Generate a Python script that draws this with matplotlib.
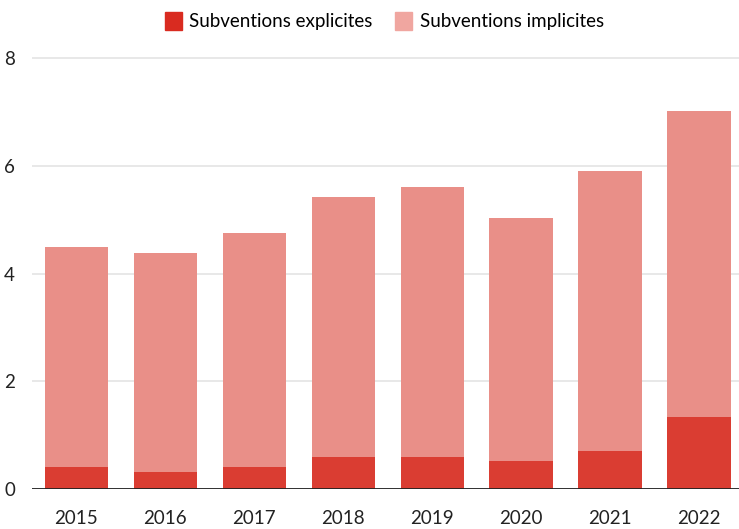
import matplotlib.pyplot as plt
from matplotlib.patches import Patch

years = ["2015", "2016", "2017", "2018", "2019", "2020", "2021", "2022"]
explicit = [0.4, 0.32, 0.4, 0.6, 0.6, 0.52, 0.7, 1.33]
total = [4.49, 4.39, 4.75, 5.42, 5.61, 5.03, 5.91, 7.02]
implicit = [t - e for t, e in zip(total, explicit)]

plt.rcParams['font.family'] = ['Lato', 'DejaVu Sans']

fig = plt.figure(figsize=(7.39, 5.29), dpi=100)
ax = fig.add_axes([0.043, 0.0756, 0.957, 0.835])

x = range(len(years))
ax.bar(x, explicit, width=0.71, color='#da3d32', zorder=3)
ax.bar(x, implicit, bottom=explicit, width=0.71, color='#e98f88', zorder=3)

ax.set_xlim(-0.5, 7.45)
ax.set_ylim(0, 8.2)
ax.set_yticks([0, 2, 4, 6, 8])
ax.set_xticks(list(x))
ax.set_xticklabels(years)
ax.grid(axis='y', color='#e6e6e6', linewidth=1.3, zorder=0)
ax.axhline(0, color='#222222', linewidth=1.3, zorder=4)
for s in ax.spines.values():
    s.set_visible(False)
ax.tick_params(axis='both', length=0, labelsize=13.5, colors='#222222')
ax.tick_params(axis='x', pad=15)
ax.tick_params(axis='y', pad=12)

handles = [Patch(color='#d92b20', label='Subventions explicites'),
           Patch(color='#f0a6a0', label='Subventions implicites')]
fig.legend(handles=handles, loc='center', bbox_to_anchor=(0.52, 0.96), ncol=2,
           frameon=False, fontsize=13.5, handlelength=0.9, handleheight=1.1,
           handletextpad=0.4, columnspacing=1.2)

fig.savefig('out.png', dpi=100)
